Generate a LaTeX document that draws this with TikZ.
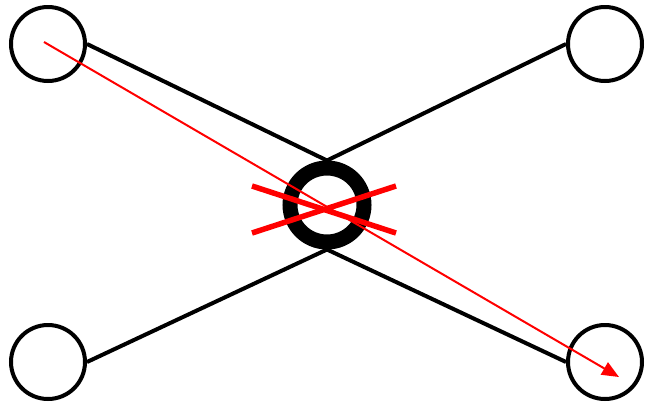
\documentclass[tikz,border=0pt]{standalone}
\usepackage{tikz}
\usetikzlibrary{arrows.meta,calc}

\begin{document}
\begin{tikzpicture}[
  x=1pt,y=-1pt,
  leaf/.style={draw,circle,line width=4pt,minimum size=74pt,inner sep=0pt},
  hub/.style={draw,circle,line width=15pt,minimum size=74pt,inner sep=0pt},
  link/.style={line width=4pt},
  cut/.style={red,line width=5.5pt},
  route/.style={red,line width=2pt,-{Triangle[length=17pt,width=14pt]}}]
  \useasboundingbox (0,0) rectangle (645,405);
  \node[leaf] (tl) at (48,44) {};
  \node[leaf] (tr) at (605,44) {};
  \node[leaf] (bl) at (48,362) {};
  \node[leaf] (br) at (605,362) {};
  \node[hub] (c) at (327,205) {};
  \draw[link] (tl.east) -- (c.north);
  \draw[link] (tr.west) -- (c.north);
  \draw[link] (bl.east) -- (c.south);
  \draw[link] (br.west) -- (c.south);
  % crossed-out hub
  \draw[cut] ($(c)+(-75,-19)$) -- ($(c)+(69,28)$);
  \draw[cut] ($(c)+(-75,28)$) -- ($(c)+(69,-19)$);
  \coordinate (tip) at ($(br)+(14,15)$);
  \draw[route] ($(tl)+(-4,-2)$) -- (tip);
\end{tikzpicture}
\end{document}
